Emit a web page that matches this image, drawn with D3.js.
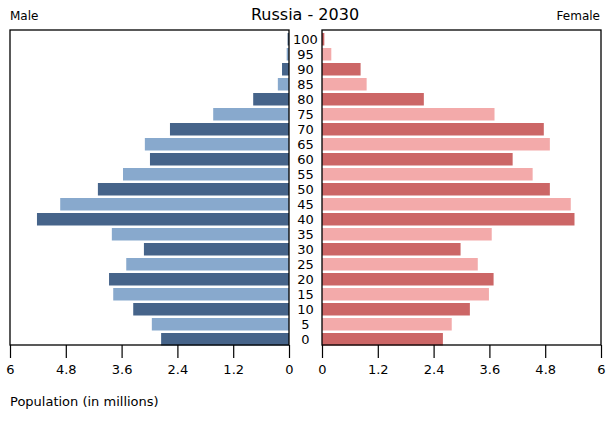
<!DOCTYPE html>
<html><head><meta charset="utf-8">
<script src="https://cdn.jsdelivr.net/npm/d3@7"></script>
<style>body{margin:0;background:#fff}svg{display:block;font-family:"DejaVu Sans",sans-serif}</style>
</head><body><svg id="c" width="610" height="425"></svg>
<script>
const ages = [100,95,90,85,80,75,70,65,60,55,50,45,40,35,30,25,20,15,10,5,0];
const male = [0.03,0.05,0.15,0.24,0.77,1.63,2.56,3.10,2.99,3.57,4.11,4.92,5.42,3.81,3.12,3.50,3.87,3.78,3.35,2.95,2.75];
const female = [0.05,0.20,0.83,0.96,2.19,3.71,4.77,4.90,4.10,4.53,4.90,5.35,5.43,3.65,2.98,3.35,3.69,3.59,3.18,2.79,2.60];
const ticks = [0,1.2,2.4,3.6,4.8,6];
const title = "Russia - 2030";

const svg = d3.select("#c");
const plotTop = 30, plotBottom = 345;
const y = d3.scaleBand().domain(ages).range([33, 345.5]).paddingInner(1/6).paddingOuter(0);
const xL = d3.scaleLinear().domain([0,6]).range([289,10]);
const xR = d3.scaleLinear().domain([0,6]).range([322,601]);
const maleC = ["#46648a","#88a9cd"], femC = ["#cc6666","#f3aaaa"];

svg.append("g").selectAll("rect").data(ages).join("rect")
  .attr("x", (d,i)=>xL(male[i])).attr("width",(d,i)=>xL(0)-xL(male[i]))
  .attr("y", d=>y(d)).attr("height", y.bandwidth())
  .attr("fill",(d,i)=>maleC[i%2]);
svg.append("g").selectAll("rect").data(ages).join("rect")
  .attr("x", xR(0)).attr("width",(d,i)=>xR(female[i])-xR(0))
  .attr("y", d=>y(d)).attr("height", y.bandwidth())
  .attr("fill",(d,i)=>femC[i%2]);

// frames
[[10,289],[322,601]].forEach(([a,b])=>{
  svg.append("rect").attr("x",a).attr("y",plotTop).attr("width",b-a).attr("height",plotBottom-plotTop)
    .attr("fill","none").attr("stroke","#000").attr("stroke-width",1.3);
});

// axes
const axL = svg.append("g").attr("transform",`translate(0,${plotBottom})`)
  .call(d3.axisBottom(xL).tickValues(ticks).tickFormat(d3.format("")).tickSize(13).tickPadding(7));
const axR = svg.append("g").attr("transform",`translate(0,${plotBottom})`)
  .call(d3.axisBottom(xR).tickValues(ticks).tickFormat(d3.format("")).tickSize(13).tickPadding(7));
[axL,axR].forEach(a=>{
  a.select(".domain").remove();
  a.selectAll("line").attr("stroke","#000").attr("stroke-width",1.2);
  a.selectAll("text").attr("font-size",13).attr("fill","#000").attr("font-family","DejaVu Sans");
});

// age labels
svg.append("g").selectAll("text").data(ages).join("text")
  .attr("x",305.5).attr("y",d=>y(d)+y.bandwidth()/2).attr("dy","0.36em")
  .attr("text-anchor","middle").attr("font-size",13).text(d=>d);

svg.append("text").attr("x",305).attr("y",20).attr("text-anchor","middle").attr("font-size",16).text(title);
svg.append("text").attr("x",10).attr("y",20).attr("font-size",12).text("Male");
svg.append("text").attr("x",600).attr("y",20).attr("text-anchor","end").attr("font-size",12).text("Female");
svg.append("text").attr("x",10).attr("y",406).attr("font-size",13).text("Population (in millions)");
</script></body></html>
